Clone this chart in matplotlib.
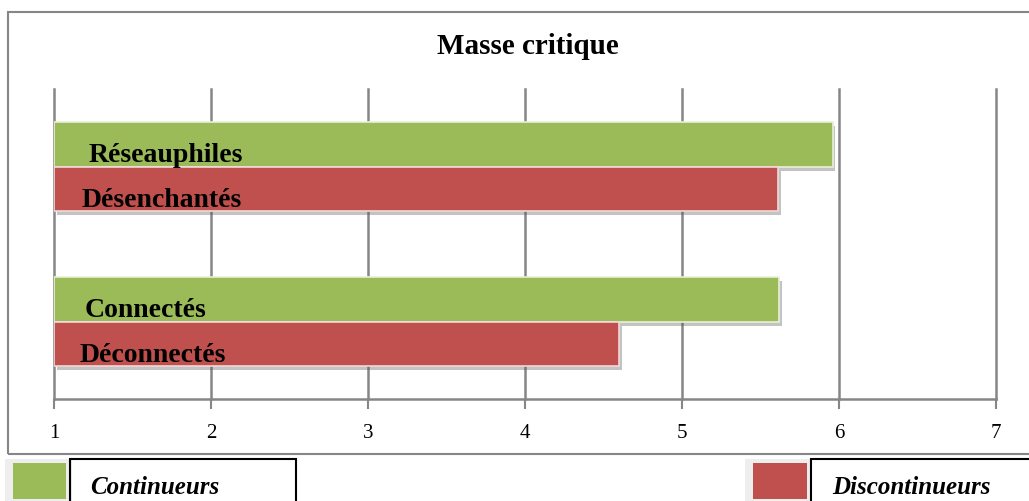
import matplotlib.pyplot as plt
import matplotlib.patheffects as pe
from matplotlib.patches import Rectangle
import numpy as np

groups = ["Réseauphiles / Désenchantés", "Connectés / Déconnectés"]
continueurs_labels = ["Réseauphiles", "Connectés"]
discontinueurs_labels = ["Désenchantés", "Déconnectés"]
continueurs = [5.96, 5.62]
discontinueurs = [5.61, 4.60]
ticks = [1, 2, 3, 4, 5, 6, 7]

green = "#9bbb59"
red = "#c0504d"
grid_col = "#868686"

plt.rcParams['font.family'] = ['Liberation Serif', 'DejaVu Serif']

fig = plt.figure(figsize=(10.29, 5.02), dpi=100)
ax = fig.add_axes([54 / 1029, 1 - 400 / 502, 942 / 1029, 310 / 502])

y = np.arange(len(groups))
h = 0.285
shadow = [pe.SimplePatchShadow(offset=(2, -3), alpha=0.35, shadow_rgbFace="#555555"), pe.Normal()]
b1 = ax.barh(y - h / 2, np.array(continueurs) - 1, left=1, height=h, color=green,
             edgecolor="#e8f0d8", linewidth=1.2, zorder=3)
b2 = ax.barh(y + h / 2, np.array(discontinueurs) - 1, left=1, height=h, color=red,
             edgecolor="#f0d8d8", linewidth=1.2, zorder=3)
for b in list(b1) + list(b2):
    b.set_path_effects(shadow)

offs_c = [0.217, 0.197]
offs_d = [0.178, 0.166]
for i in range(len(groups)):
    ax.text(1 + offs_c[i], y[i] - 0.035, continueurs_labels[i], fontsize=20,
            fontweight="bold", va="baseline", ha="left", zorder=4)
    ax.text(1 + offs_d[i], y[i] + h - 0.03, discontinueurs_labels[i], fontsize=20,
            fontweight="bold", va="baseline", ha="left", zorder=4)

ax.set_xlim(1, 7)
ax.set_ylim(1.5, -0.5)
ax.set_xticks(ticks)
ax.set_xticklabels([str(t) for t in ticks], fontsize=15)
ax.set_yticks([])
ax.grid(axis="x", color=grid_col, linewidth=1.8, zorder=0)
for gl in ax.get_xgridlines():
    gl.set_clip_on(False)
for s in ["top", "right", "left"]:
    ax.spines[s].set_visible(False)
ax.spines["bottom"].set_color(grid_col)
ax.spines["bottom"].set_linewidth(1.8)
ax.tick_params(axis="x", length=7, width=1.5, color=grid_col, pad=10)

fig.text(528 / 1029, 1 - 47 / 502, "Masse critique", fontsize=21, fontweight="bold",
         ha="center", va="center")

# outer chart frame
fig.patches.append(Rectangle((8 / 1029, 1 - 455 / 502), 1.05, 442 / 502, transform=fig.transFigure,
                             fill=False, edgecolor=grid_col, linewidth=1.5))

# legend boxes
fig.patches.append(Rectangle((5 / 1029, 0), 67 / 1029, 42 / 502, transform=fig.transFigure,
                             facecolor="#eeeeee", edgecolor="none"))
fig.patches.append(Rectangle((13 / 1029, 2 / 502), 53 / 1029, 36 / 502, transform=fig.transFigure,
                             facecolor=green, edgecolor="none"))
fig.patches.append(Rectangle((70 / 1029, -0.02), 226 / 1029, 42 / 502 + 0.02, transform=fig.transFigure,
                             fill=False, edgecolor="black", linewidth=1.5))
fig.text(90 / 1029, 1 - 488 / 502, "Continueurs", fontsize=18, fontweight="bold",
         fontstyle="italic", ha="left", va="center")

fig.patches.append(Rectangle((745 / 1029, 0), 67 / 1029, 42 / 502, transform=fig.transFigure,
                             facecolor="#eeeeee", edgecolor="none"))
fig.patches.append(Rectangle((753 / 1029, 2 / 502), 54 / 1029, 36 / 502, transform=fig.transFigure,
                             facecolor=red, edgecolor="none"))
fig.patches.append(Rectangle((811 / 1029, -0.02), 0.25, 42 / 502 + 0.02, transform=fig.transFigure,
                             fill=False, edgecolor="black", linewidth=1.5))
fig.text(832 / 1029, 1 - 488 / 502, "Discontinueurs", fontsize=18, fontweight="bold",
         fontstyle="italic", ha="left", va="center")

fig.savefig("out.png", dpi=100)
